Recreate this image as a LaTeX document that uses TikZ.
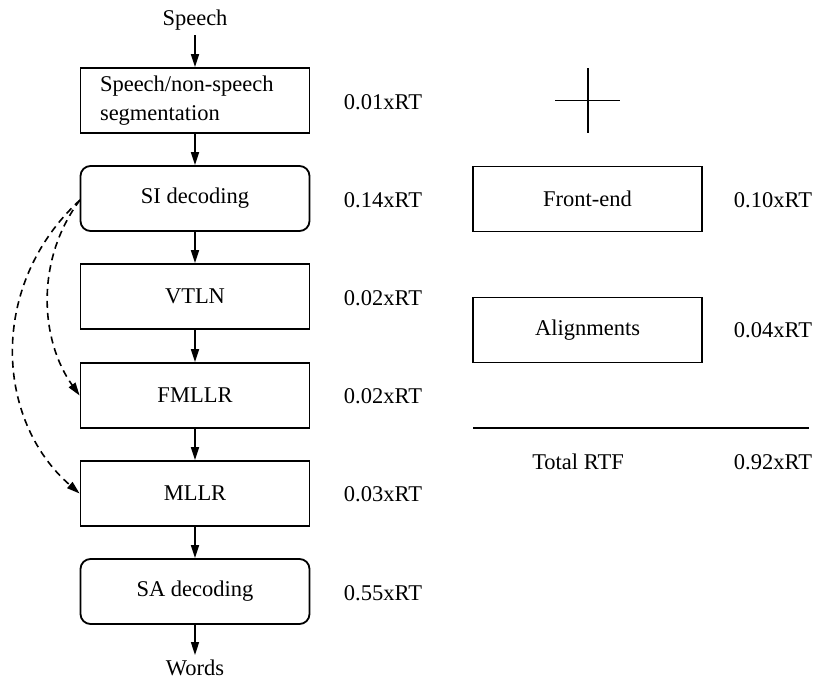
\documentclass[tikz,border=0pt]{standalone}
\usepackage{fontspec}
\setmainfont{Liberation Serif}
\usetikzlibrary{arrows.meta}
\begin{document}
\begin{tikzpicture}[x=1pt,y=-1pt,
  every node/.style={font=\fontsize{22.5}{29}\selectfont, inner sep=0pt},
  box/.style={draw, line width=1.8pt, minimum width=229pt, minimum height=65pt, align=center},
  rbox/.style={box, rounded corners=10pt},
  arr/.style={line width=1.6pt, -{Triangle[length=13pt,width=8pt]}},
  darr/.style={line width=1.6pt, dash pattern=on 7pt off 5pt, -{Triangle[length=13pt,width=8pt]}},
  lab/.style={anchor=center}]
\useasboundingbox (0,0) rectangle (815,681);
\node (speech) at (195,20) {Speech};
\node[box, align=left, text width=190pt] (seg) at (195,100.5) {Speech/non-speech\\segmentation};
\node[rbox] (si) at (195,198.5) {SI decoding};
\node[box] (vtln) at (195,296.5) {VTLN};
\node[box] (fmllr) at (195,395.5) {FMLLR};
\node[box] (mllr) at (195,493.5) {MLLR};
\node[rbox] (sa) at (195,591.5) {SA decoding};
\node (words) at (195,668) {Words};
\coordinate (sp) at (195,35);
\coordinate (wd) at (195,655);
\draw[arr] (sp) -- (seg.north);
\draw[arr] (seg) -- (si);
\draw[arr] (si) -- (vtln);
\draw[arr] (vtln) -- (fmllr);
\draw[arr] (fmllr) -- (mllr);
\draw[arr] (mllr) -- (sa);
\draw[arr] (sa.south) -- (wd);
\coordinate (ds) at (80,200);
\draw[darr] (ds) .. controls (35,260) and (40,340) .. (fmllr.west);
\draw[darr] (ds) .. controls (-12,285) and (-5,420) .. (mllr.west);
\node[lab] (t1) at (383,102) {0.01xRT};
\node[lab] (t2) at (383,200) {0.14xRT};
\node[lab] (t3) at (383,298) {0.02xRT};
\node[lab] (t4) at (383,396) {0.02xRT};
\node[lab] (t5) at (383,494) {0.03xRT};
\node[lab] (t6) at (383,593) {0.55xRT};
% cross
\coordinate (ch1) at (555,100.5);
\coordinate (ch2) at (620,100.5);
\coordinate (cv1) at (588,68);
\coordinate (cv2) at (588,133);
\draw[line width=1.6pt] (ch1) -- (ch2);
\draw[line width=1.6pt] (cv1) -- (cv2);
\node[box] (fe) at (587.5,199) {Front-end};
\node[box] (al) at (587.5,330) {\raisebox{-2pt}{Alignments}};
\node[lab] (t7) at (773,200) {0.10xRT};
\node[lab] (t8) at (773,330) {0.04xRT};
\coordinate (l1) at (473,428);
\coordinate (l2) at (809,428);
\draw[line width=1.6pt] (l1) -- (l2);
\node[lab] (tot) at (578,462) {Total RTF};
\node[lab] (t9) at (773,462) {0.92xRT};
\end{tikzpicture}
\end{document}
